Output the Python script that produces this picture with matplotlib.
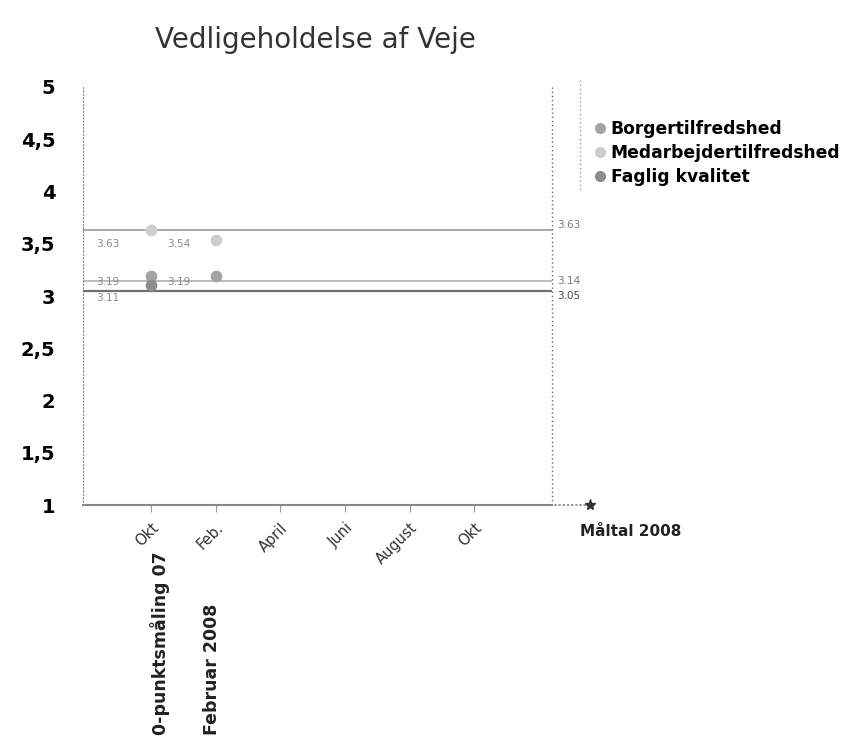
import matplotlib.pyplot as plt
from matplotlib.lines import Line2D

# måneder på x-aksen
months = ['Okt', 'Feb.', 'April', 'Juni', 'August', 'Okt']
month_pos = [1, 2, 3, 4, 5, 6]

# målinger
series = ['Borgertilfredshed', 'Medarbejdertilfredshed', 'Faglig kvalitet']
colors = ['#a4a4a4', '#cdcdcd', '#8c8c8c']
meas_pos = [[1, 2], [1, 2], [1]]
meas_vals = [[3.19, 3.19], [3.63, 3.54], [3.11]]
meas_names = ['0-punktsmåling 07', 'Februar 2008']

# måltal 2008
goal_vals = [3.14, 3.63, 3.05]
goal_colors = ['#b0b0b0', '#9a9a9a', '#707070']
goal_x = 7.2

fig = plt.figure(figsize=(8.48, 7.39), dpi=100)
ax = fig.add_axes([0.098, 0.3166, 0.553, 0.5657])
ax.set_xlim(-0.05, goal_x)
ax.set_ylim(1, 5)

for gv, gc in zip(goal_vals, goal_colors):
    ax.plot([-0.05, goal_x], [gv, gv], color=gc, lw=1.6 if gv == 3.05 else 1.2, zorder=2)
    ax.text(goal_x + 0.08, gv + (0.05 if gv > 3.5 else 0), f'{gv:.2f}',
            color='#777777' if gv != 3.05 else '#444444', fontsize=7.5,
            va='center' if gv != 3.05 else 'top', ha='left')

for xs, vs, c in zip(meas_pos, meas_vals, colors):
    ax.scatter(xs, vs, s=55, color=c, zorder=4)
for xs, vs in zip(meas_pos, meas_vals):
    for x, v in zip(xs, vs):
        if v > 3.5:
            ty = 3.5
        elif v == 3.11:
            ty = 2.98
        else:
            ty = 3.13
        ax.text(x - 0.85 if x == 1 else x - 0.75, ty, f'{v:.2f}',
                fontsize=7.5, color='#888888', va='center')

ax.axvline(goal_x, color='#666666', ls=(0, (1, 2)), lw=1, clip_on=False)
ax.set_yticks([1, 1.5, 2, 2.5, 3, 3.5, 4, 4.5, 5])
ax.set_yticklabels(['1', '1,5', '2', '2,5', '3', '3,5', '4', '4,5', '5'],
                   fontsize=14, fontweight='bold')
ax.set_xticks(month_pos)
ax.set_xticklabels(months, rotation=45, ha='right', rotation_mode='anchor',
                   fontsize=10.5, color='#333333')
ax.tick_params(axis='x', length=5, color='#999999', pad=6)
ax.tick_params(axis='y', length=0, pad=20)
for s in ['top', 'right']:
    ax.spines[s].set_visible(False)
ax.spines['left'].set_color('#888888')
ax.spines['left'].set_linestyle((0, (1, 2)))
ax.spines['bottom'].set_color('#888888')
ax.spines['bottom'].set_linewidth(1.5)

# pil mod måltal
ax.annotate('', xy=(7.78, 1), xytext=(goal_x, 1), annotation_clip=False,
            arrowprops=dict(arrowstyle='-', ls=(0, (1, 2)), color='#666666'))
ax.plot([7.78], [1], marker='*', ms=8, color='#333333', clip_on=False)
fig.text(580 / 848, 1 - 531 / 739, 'Måltal 2008', fontsize=11, fontweight='bold',
         va='center', color='#222222')

for x, dx, name in zip([1, 2], [0.14, -0.05], meas_names):
    xf = ax.transData.transform((x + dx, 1))[0] / fig.bbox.width
    fig.text(xf, 0.006, name, rotation=90, ha='center', va='bottom',
             fontsize=12.5, fontweight='bold', color='#222222')

fig.text(0.372, 1 - 40 / 739, 'Vedligeholdelse af Veje', fontsize=20,
         ha='center', va='center', color='#333333')

handles = [Line2D([], [], ls='', marker='o', ms=7, color=c) for c in colors]
leg = fig.legend(handles, series, loc='upper left', bbox_to_anchor=(0.677, 0.858),
                 frameon=False, handletextpad=0.05, labelspacing=0.35,
                 handlelength=1.2, prop={'weight': 'bold', 'size': 12.3})
fig.add_artist(Line2D([580 / 848, 580 / 848], [1 - 80 / 739, 1 - 190 / 739],
                      color='#999999', ls=(0, (1, 2)), lw=1))

fig.savefig('out.png', dpi=100)
